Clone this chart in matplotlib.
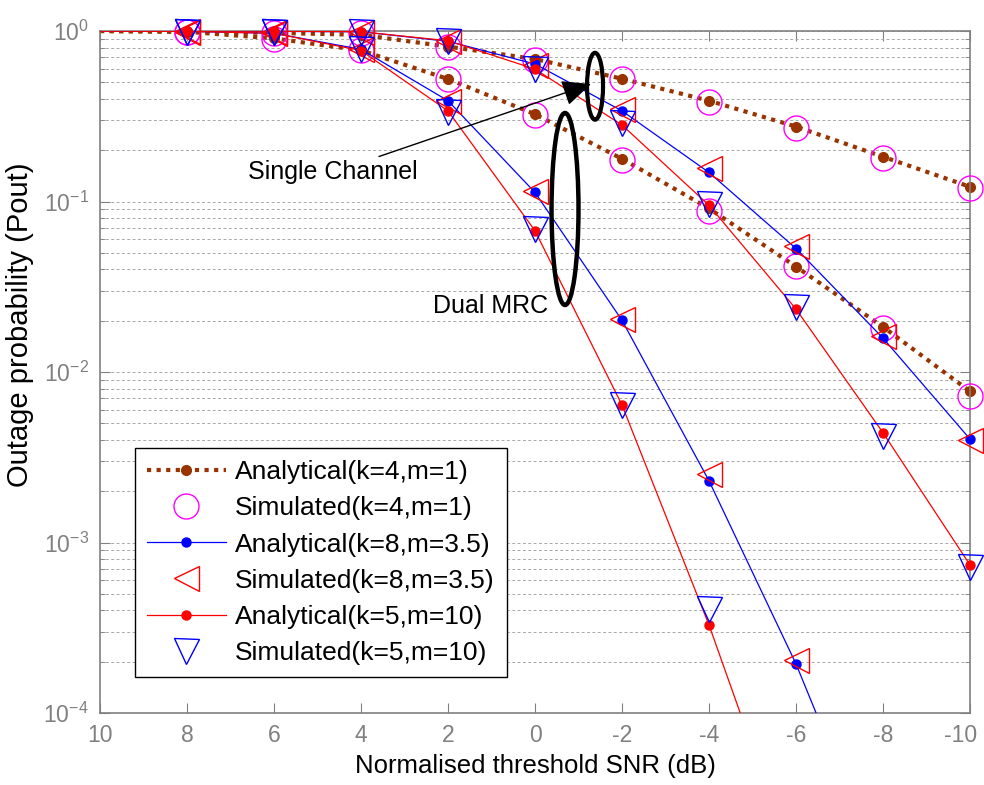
import matplotlib
import matplotlib.pyplot as plt
import matplotlib.transforms as mtransforms
import numpy as np
from matplotlib.lines import Line2D
from matplotlib.patches import Ellipse

matplotlib.use("Agg")

plt.rcParams["font.family"] = ["Liberation Sans", "DejaVu Sans"]
plt.rcParams["mathtext.fontset"] = "custom"
plt.rcParams["mathtext.rm"] = "Liberation Sans"
plt.rcParams["axes.unicode_minus"] = False

# normalised threshold SNR (dB); analytical curves start at 10, markers from 8
snr_db = np.array([10, 8, 6, 4, 2, 0, -2, -4, -6, -8, -10])
snr_sim = snr_db[1:]

# analytical, single channel (upper) and dual MRC (lower)
ana_k4_single = [1.0, 0.99, 0.975, 0.95, 0.81, 0.685, 0.525, 0.39, 0.275, 0.183, 0.122]
ana_k4_dual = [1.0, 0.99, 0.905, 0.77, 0.523, 0.325, 0.178, 0.091, 0.0415, 0.0184, 0.0077]
ana_k8_single = [1.0, 0.998, 0.995, 0.99, 0.87, 0.64, 0.34, 0.148, 0.053, 0.0158, 0.00404]
ana_k8_dual = [1.0, 0.995, 0.97, 0.78, 0.39, 0.113, 0.0201, 0.0023, 0.000194, 1.1e-5, 5e-7]
ana_k5_single = [1.0, 0.999, 0.997, 0.99, 0.877, 0.598, 0.281, 0.095, 0.0234, 0.0044, 0.000738]
ana_k5_dual = [1.0, 0.995, 0.97, 0.768, 0.34, 0.0674, 0.0064, 0.000328, 1.2e-5, 3e-7, 5e-9]

# simulated, at snr_sim
sim_k4_single = [0.99, 0.97, 0.978, 0.81, 0.68, 0.52, 0.385, 0.27, 0.18, 0.12]
sim_k4_dual = [0.99, 0.9, 0.77, 0.52, 0.32, 0.175, 0.088, 0.0419, 0.0182, 0.0072]
sim_k8_single = [1.0, 0.99, 0.99, 0.87, 0.63, 0.35, 0.157, 0.055, 0.0162, 0.0040]
sim_k8_dual = [0.99, 0.98, 0.78, 0.39, 0.115, 0.0205, 0.00252, 0.000205, np.nan, np.nan]
sim_k5_single = [0.99, 0.99, 0.99, 0.87, 0.6, 0.29, 0.097, 0.0242, 0.0042, 0.00072]
sim_k5_dual = [0.99, 0.99, 0.78, 0.335, 0.069, 0.0064, 0.000407, np.nan, np.nan, np.nan]

labels = [
    "Analytical(k=4,m=1)",
    "Simulated(k=4,m=1)",
    "Analytical(k=8,m=3.5)",
    "Simulated(k=8,m=3.5)",
    "Analytical(k=5,m=10)",
    "Simulated(k=5,m=10)",
]

brown = "#993300"
gray = "#808080"
ymin = 1e-4


def shown(vals):
    # markers are not clipped at the frame, so drop the ones below the axis
    vals = np.asarray(vals, dtype=float)
    return np.where(vals >= ymin, vals, np.nan)


fig = plt.figure(figsize=(9.84, 7.85), dpi=100)
ax = fig.add_axes([0.1016, 0.0917, 0.8842, 0.8688])

dotted = (0, (1, 1.3))
for ana in (ana_k4_single, ana_k4_dual):
    ax.plot(snr_db, ana, color=brown, lw=3, linestyle=dotted, dash_capstyle="butt", zorder=2)
    ax.plot(snr_sim, shown(ana[1:]), "o", color=brown, ms=7, zorder=2, clip_on=False)
for sim in (sim_k4_single, sim_k4_dual):
    ax.plot(snr_sim, shown(sim), "o", mfc="none", mec="#ff00ff", ms=18, mew=1,
            zorder=3, clip_on=False)

for ana in (ana_k8_single, ana_k8_dual):
    ax.plot(snr_db, ana, color="#0000ff", lw=0.9, zorder=4)
    ax.plot(snr_sim, shown(ana[1:]), "o", color="#0000ff", ms=6.5, zorder=4, clip_on=False)
for sim in (sim_k8_single, sim_k8_dual):
    ax.plot(snr_sim, shown(sim), "<", mfc="none", mec="#ff0000", ms=18, mew=1,
            zorder=5, clip_on=False)

for ana in (ana_k5_single, ana_k5_dual):
    ax.plot(snr_db, ana, color="#ff0000", lw=0.9, zorder=6)
    ax.plot(snr_sim, shown(ana[1:]), "o", color="#ff0000", ms=6.5, zorder=6, clip_on=False)
for sim in (sim_k5_single, sim_k5_dual):
    ax.plot(snr_sim, shown(sim), "v", mfc="none", mec="#0000ff", ms=18, mew=1,
            zorder=7, clip_on=False)

ax.set_yscale("log")
ax.set_ylim(ymin, 1)
ax.set_xlim(10, -10)
ax.set_xticks(np.arange(10, -11, -2))
ax.set_xticklabels([str(v) for v in range(10, -11, -2)])

ax.yaxis.grid(True, which="both", linestyle=(0, (3, 2.5)), color="#a8a8a8", lw=0.7)
ax.xaxis.grid(False)
ax.set_axisbelow(True)
ax.tick_params(which="both", direction="in", top=True, right=True, colors=gray,
               labelsize=16.5, labelcolor=gray)
ax.tick_params(which="major", length=7, width=0.8)
ax.tick_params(which="minor", length=3.5, width=0.6)
ax.tick_params(axis="x", which="major", pad=8)
ax.tick_params(axis="y", which="major", pad=8)
for sp in ax.spines.values():
    sp.set_color(gray)
    sp.set_linewidth(1.2)

# keep the last x label inside the figure
last = ax.get_xticklabels()[-1]
last.set_transform(last.get_transform()
                   + mtransforms.ScaledTranslation(-7 / 72, 0, fig.dpi_scale_trans))

ax.set_xlabel("Normalised threshold SNR (dB)", fontsize=18.5, labelpad=5)
ax.set_ylabel("Outage probability (Pout)", fontsize=21)
ax.yaxis.set_label_coords(-0.076, 0.569)

handles = [
    Line2D([], [], color=brown, lw=3, linestyle=dotted, marker="o", ms=7),
    Line2D([], [], linestyle="none", marker="o", mfc="none", mec="#ff00ff", ms=18),
    Line2D([], [], color="#0000ff", lw=0.9, marker="o", ms=6.5),
    Line2D([], [], linestyle="none", marker="<", mfc="none", mec="#ff0000", ms=18),
    Line2D([], [], color="#ff0000", lw=0.9, marker="o", ms=6.5),
    Line2D([], [], linestyle="none", marker="v", mfc="none", mec="#0000ff", ms=18),
]
leg = ax.legend(handles, labels, loc="lower left", bbox_to_anchor=(0.04, 0.053),
                fontsize=19, frameon=True, fancybox=False, framealpha=1,
                edgecolor="black", handlelength=3.0, labelspacing=0.46,
                borderpad=0.45, handletextpad=0.35, borderaxespad=0)
leg.get_frame().set_linewidth(1.0)

# annotations
ax.add_patch(Ellipse((0.569, 0.919), 0.0184, 0.098, transform=ax.transAxes,
                     fill=False, ec="black", lw=3, zorder=10))
ax.add_patch(Ellipse((0.5345, 0.739), 0.031, 0.2815, transform=ax.transAxes,
                     fill=False, ec="black", lw=3.2, zorder=10))
ax.annotate("Single Channel", xy=(0.5644, 0.9223), xycoords="axes fraction",
            xytext=(0.3655, 0.793), textcoords="axes fraction",
            ha="right", va="center", fontsize=18,
            arrowprops=dict(arrowstyle="-|>,head_length=1.0,head_width=0.45",
                            color="black", lw=1, shrinkA=2, shrinkB=0), zorder=11)
ax.text(0.515, 0.597, "Dual MRC", transform=ax.transAxes, ha="right", va="center",
        fontsize=18, zorder=11)

fig.savefig("out.png", dpi=100)
